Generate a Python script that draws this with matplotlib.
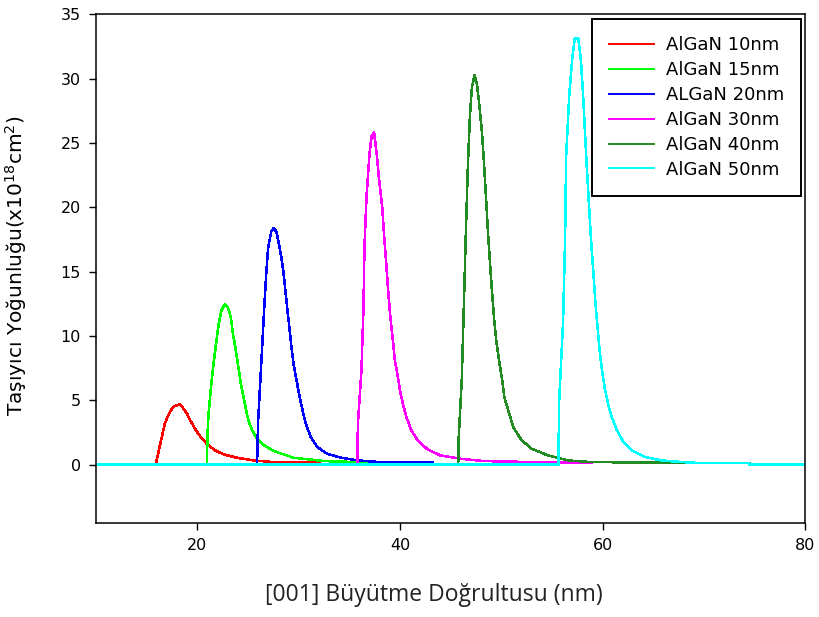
import matplotlib
matplotlib.use("Agg")
import matplotlib.pyplot as plt

# Carrier density profiles along the [001] growth direction
labels = ["AlGaN 10nm", "AlGaN 15nm", "ALGaN 20nm", "AlGaN 30nm", "AlGaN 40nm", "AlGaN 50nm"]
colors = ["#ff0000", "#00ff00", "#0000ff", "#ff00ff", "#228b22", "#00ffff"]

x_10 = [15.9, 16.2, 16.4, 16.6, 16.8, 17.05, 17.3, 17.65, 18.25, 18.6, 19.0, 19.3, 19.7,
        20.1, 20.6, 21.1, 21.8, 22.6, 23.9, 25.6, 27.5, 32.1]
y_10 = [0, 1.1, 1.8, 2.5, 3.2, 3.7, 4.1, 4.5, 4.7, 4.4, 3.95, 3.45, 2.9,
        2.4, 1.9, 1.5, 1.1, 0.8, 0.54, 0.33, 0.2, 0.15]

x_15 = [20.95, 21.0, 21.1, 21.35, 21.6, 21.9, 22.15, 22.4, 22.7, 23.0, 23.3, 23.5, 23.8,
        24.05, 24.3, 24.6, 24.85, 25.1, 25.4, 25.9, 26.6, 27.55, 29.5, 32.5, 37.8]
y_15 = [0, 2.1, 3.8, 6.0, 7.8, 9.7, 11.1, 12.0, 12.45, 12.25, 11.5, 10.3, 8.9,
        7.6, 6.3, 5.1, 4.1, 3.3, 2.7, 2.0, 1.5, 1.06, 0.54, 0.28, 0.15]

x_20 = [25.9, 26.0, 26.2, 26.4, 26.6, 26.8, 27.0, 27.3, 27.55, 27.8, 28.0, 28.3, 28.5,
        28.7, 28.9, 29.1, 29.3, 29.5, 29.8, 30.1, 30.4, 30.7, 31.2, 31.85, 32.8, 34.2,
        35.8, 38.1, 43.2]
y_20 = [0, 3.3, 6.2, 9.1, 12.1, 14.8, 16.9, 18.1, 18.4, 18.1, 17.4, 16.1, 15.0,
        13.5, 12.0, 10.6, 9.1, 7.8, 6.55, 5.25, 4.2, 3.2, 2.15, 1.37, 0.85, 0.54,
        0.33, 0.2, 0.15]

x_30 = [35.8, 35.85, 36.2, 36.4, 36.5, 36.7, 37.0, 37.2, 37.45, 37.7, 37.95, 38.25, 38.45,
        38.65, 38.85, 39.05, 39.3, 39.5, 39.8, 40.0, 40.3, 40.6, 41.1, 41.75, 42.7, 44.0,
        46.0, 48.3, 53.3, 58.9]
y_30 = [0, 3.2, 7.3, 12.1, 16.9, 20.8, 24.2, 25.5, 25.8, 24.2, 22.1, 20.0, 17.7,
        15.6, 13.4, 11.5, 9.7, 8.1, 6.8, 5.8, 4.7, 3.8, 2.7, 1.9, 1.2, 0.72,
        0.46, 0.28, 0.2, 0.15]

x_40 = [45.75, 45.8, 46.1, 46.3, 46.5, 46.7, 46.9, 47.1, 47.35, 47.6, 47.8, 48.1, 48.3,
        48.5, 48.7, 48.9, 49.1, 49.3, 49.5, 49.8, 50.1, 50.3, 50.7, 51.2, 52.0, 53.0,
        54.6, 56.6, 58.9, 74.5]
y_40 = [0, 2.1, 6.55, 12.1, 17.9, 23.1, 27.0, 29.3, 30.25, 29.6, 28.2, 25.8, 23.4,
        20.7, 17.9, 15.5, 13.3, 11.3, 9.7, 8.0, 6.55, 5.25, 4.2, 2.9, 1.9, 1.24,
        0.72, 0.33, 0.2, 0.12]

x_50 = [10, 55.65, 55.7, 56.1, 56.3, 56.4, 56.7, 57.0, 57.25, 57.6, 57.85, 58.05, 58.25,
        58.45, 58.65, 58.85, 59.1, 59.3, 59.5, 59.7, 59.95, 60.2, 60.55, 60.9, 61.4,
        62.05, 62.9, 64.2, 65.8, 68.8, 74.4, 74.5, 80]
y_50 = [0, 0, 4.7, 11.1, 17.6, 23.9, 28.6, 31.5, 33.1, 33.1, 31.5, 29.1, 26.0,
        23.0, 20.3, 17.6, 14.8, 12.5, 10.7, 8.9, 7.3, 6.0, 4.7, 3.7, 2.7,
        1.76, 1.1, 0.6, 0.33, 0.15, 0.12, 0, 0]

series_x = [x_10, x_15, x_20, x_30, x_40, x_50]
series_y = [y_10, y_15, y_20, y_30, y_40, y_50]

x_ticks = [20, 40, 60, 80]
y_ticks = [0, 5, 10, 15, 20, 25, 30, 35]

plt.rcParams["font.family"] = ["DejaVu Sans"]

fig = plt.figure(figsize=(8.2, 6.17), dpi=100)
ax = fig.add_axes([0.117, 0.153, 0.865, 0.824])

for xs, ys, c, lab in zip(series_x, series_y, colors, labels):
    ax.plot(xs, ys, color=c, lw=1.1, label=lab, antialiased=False)

ax.set_xlim(10, 80)
ax.set_ylim(-4.5, 35)
ax.set_xticks(x_ticks)
ax.set_yticks(y_ticks)
ax.tick_params(direction="out", length=5, width=1.0, labelsize=11.5, pad=6, colors="black")
for sp in ax.spines.values():
    sp.set_linewidth(1.1)

ax.set_xlabel("[001] Büyütme Doğrultusu (nm)", family="Open Sans", fontsize=16.5, color="#222222")
ax.xaxis.set_label_coords(0.476, -0.118)
ax.set_ylabel("Taşıyıcı Yoğunluğu(x10$^{18}$cm$^{2}$)", fontsize=14.5)
ax.yaxis.set_label_coords(-0.095, 0.505)

leg = ax.legend(loc="upper right", bbox_to_anchor=(0.994, 0.990), borderaxespad=0,
                fancybox=False, framealpha=1, edgecolor="black", fontsize=13,
                handlelength=2.5, handletextpad=0.65, labelspacing=0.38, borderpad=0.95)
leg.get_frame().set_linewidth(1.4)
for h in leg.get_lines():
    h.set_antialiased(True)
    h.set_linewidth(1.4)

fig.savefig("out.png", dpi=100)
